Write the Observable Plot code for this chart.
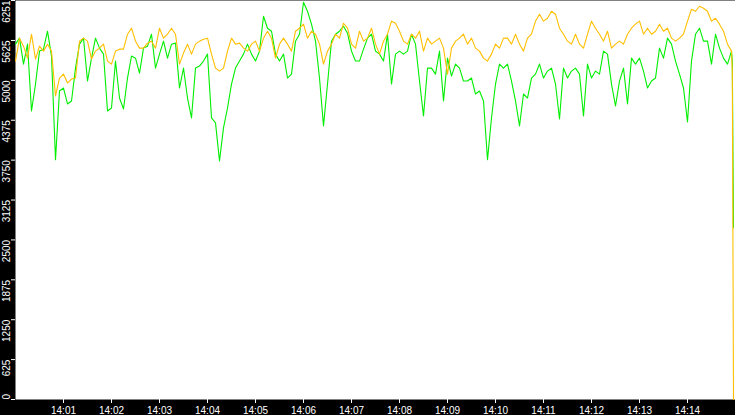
<!DOCTYPE html>
<html><head><meta charset="utf-8">
<script src="https://cdn.jsdelivr.net/npm/d3@7"></script>
<script src="https://cdn.jsdelivr.net/npm/@observablehq/plot@0.6"></script>
<style>html,body{margin:0;padding:0;background:#000;overflow:hidden}</style>
</head><body><div id="chart"></div>
<script>
// Sampling: one reading every 5 s starting 14:00:00, then two closing readings
const startTime = "2024-01-01T14:00:00Z";
const stepSeconds = 5;
const closingTimes = ["2024-01-01T14:14:56Z", "2024-01-01T14:14:57.500Z"];
const domainTimes = ["2024-01-01T14:00:00Z", "2024-01-01T14:15:00Z"];

const greenValues = [
5567,5661,5255,5567,4520,4942,5458,5489,5770,5380,
3755,4833,4880,4630,4677,5192,5567,5661,4989,5348,
5661,5505,5411,4520,4567,5302,4723,4552,5036,5380,
5348,5114,5505,5536,5723,5192,5411,5614,5348,5567,
5583,4880,5192,4723,4411,5192,5223,5302,5411,4411,
4333,3739,4255,4567,4942,5192,5302,5411,5567,5411,
5302,5458,6005,5817,5770,5411,5302,5411,5036,5098,
5614,5723,6223,6083,5880,5614,5036,4286,4942,5614,
5723,5770,5848,5739,5458,5302,5302,5489,5661,5723,
5458,5411,5302,5723,4942,5411,5458,5411,5458,5723,
5567,4989,4442,5192,5192,5098,5458,4677,5348,5067,
5255,5192,4989,4989,5036,4786,4833,4677,3755,4411,
4942,5255,5192,5255,4989,4677,4286,4786,4723,5036,
5098,5255,5036,5145,5192,4942,4395,5192,5036,5145,
5192,5098,4442,5255,5036,5145,5098,5458,5411,4942,
4598,4989,5192,4630,5348,5255,5348,5145,4880,4989,
5036,5505,5348,5661,5567,5302,5098,4880,4348,5302,
5723,5817,5614,5614,5255,5723,5505,5348,5255,5458
];
const greenClosing = [5300, 2692];

const orangeValues = [
5302,5661,5536,5348,5723,5333,5536,5458,5567,5458,
4755,5036,5098,4958,5020,5036,5614,5661,5614,5333,
5458,5505,5567,5302,5255,5458,5489,5489,5723,5817,
5614,5505,5505,5583,5614,5505,5817,5661,5723,5817,
5723,5255,5427,5567,5411,5567,5614,5645,5661,5411,
5192,5145,5192,5458,5661,5567,5583,5505,5458,5567,
5614,5458,5661,5770,5661,5348,5567,5661,5567,5458,
5770,5817,5880,5661,5770,5723,5567,5255,5458,5567,
5723,5661,5895,5817,5567,5505,5770,5614,5661,5817,
5567,5411,5614,5723,5927,5895,5770,5614,5567,5723,
5661,5770,5458,5661,5567,5614,5661,5505,5098,5505,
5614,5661,5723,5567,5661,5505,5458,5348,5302,5411,
5567,5505,5661,5661,5567,5723,5567,5458,5661,5723,
5927,6036,5927,5973,6083,6036,5817,5723,5614,5567,
5723,5567,5505,5723,5927,5817,5723,5614,5770,5505,
5567,5614,5567,5723,5817,5880,5927,5723,5817,5723,
5770,5880,5770,5817,5661,5614,5661,5723,5927,6114,
6083,6161,6130,6083,5927,5973,5880,5770,5567,5458
];
const orangeClosing = [5150, 0];

const yTickValues = [0, 625, 1250, 1875, 2500, 3125, 3750, 4375, 5000, 5625, 6251];
const xTickLabels = ["14:01","14:02","14:03","14:04","14:05","14:06","14:07","14:08","14:09","14:10","14:11","14:12","14:13","14:14"];

const t0 = new Date(startTime).getTime();
function toRows(values, closing) {
  const rows = values.map((v, i) => ({t: new Date(t0 + i * stepSeconds * 1000), v}));
  closing.forEach((v, i) => rows.push({t: new Date(closingTimes[i]), v}));
  return rows;
}
const greenRows = toRows(greenValues, greenClosing);
const orangeRows = toRows(orangeValues, orangeClosing);
const xTicks = xTickLabels.map(s => new Date("2024-01-01T" + s + ":00Z"));

const chart = Plot.plot({
  width: 735, height: 415,
  marginLeft: 15, marginRight: 0, marginTop: 0, marginBottom: 16,
  style: {background: "#000", color: "#fff", fontFamily: "Liberation Sans, Arial, sans-serif", fontSize: "10px"},
  x: {type: "utc", domain: domainTimes.map(d => new Date(d)), label: null},
  y: {domain: [0, 6251], label: null},
  marks: [
    Plot.frame({fill: "#fff", stroke: null}),
    Plot.axisX(xTicks, {tickSize: 4, tickPadding: 3, tickFormat: d3.utcFormat("%H:%M"), fontSize: 10, label: null}),
    Plot.axisY(yTickValues, {tickSize: 4, tickFormat: () => "", label: null}),
    Plot.text(yTickValues.filter(d => d !== 0), {y: d => d, text: d => String(d), frameAnchor: "left", dx: -9, rotate: -90, textAnchor: "end", lineAnchor: "middle", fill: "#fff", fontSize: 10}),
    Plot.text(yTickValues.filter(d => d === 0), {y: d => d, text: d => String(d), frameAnchor: "left", dx: -9, rotate: -90, textAnchor: "start", lineAnchor: "middle", fill: "#fff", fontSize: 10}),
    Plot.line(greenRows, {x: "t", y: "v", stroke: "#00ee00", strokeWidth: 1.1}),
    Plot.line(orangeRows, {x: "t", y: "v", stroke: "#ffbf00", strokeWidth: 1.1})
  ]
});
document.getElementById("chart").appendChild(chart);
</script>
</body></html>
